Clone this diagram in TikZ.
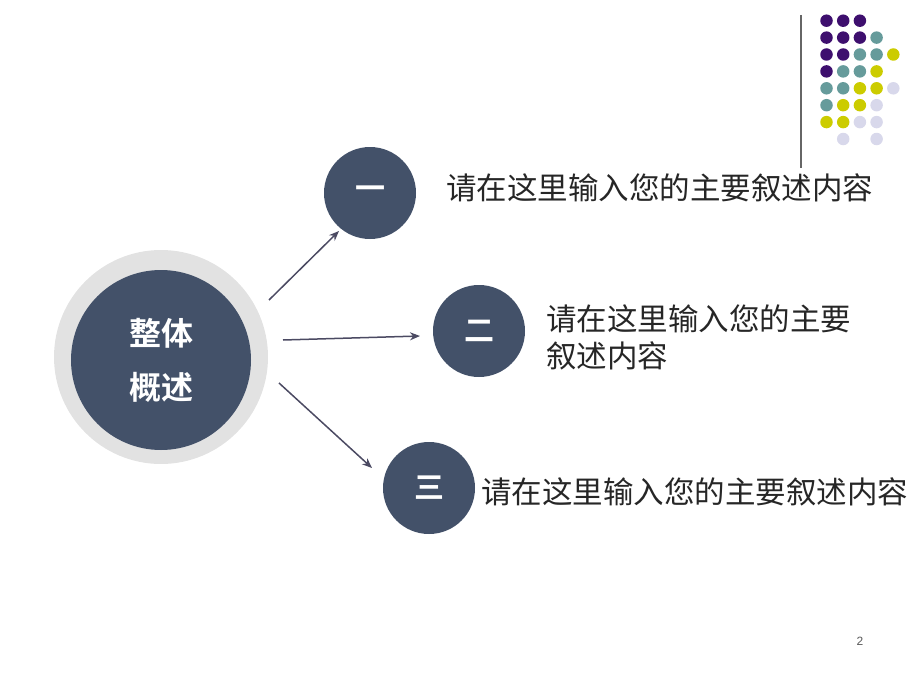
\documentclass[tikz,border=0pt]{standalone}
\usepackage{fontspec}
\newfontfamily\cjk{Noto Sans CJK SC}
\newfontfamily\cjkb{Noto Sans CJK SC Bold}
\newfontfamily\arialf{Liberation Sans}
\usetikzlibrary{arrows.meta}
\definecolor{navy}{HTML}{435169}
\definecolor{ring}{HTML}{E2E2E2}
\definecolor{arr}{HTML}{4B4A62}
\definecolor{dpurple}{HTML}{3E0F6E}
\definecolor{dteal}{HTML}{669B9B}
\definecolor{dyellow}{HTML}{CCCC00}
\definecolor{dlav}{HTML}{D8D8EB}
\definecolor{txt}{HTML}{262626}
\tikzset{
  x=1pt,y=-1pt,
  numc/.style={circle,fill=navy,minimum size=92pt,inner sep=0pt,text=white,font=\cjkb\fontsize{30}{30}\selectfont},
  body/.style={anchor=west,text=txt,font=\cjk\fontsize{30.5}{37}\selectfont,inner sep=0pt,align=left},
  conn/.style={draw=arr,line width=1.5pt,-{Stealth[length=10pt,width=8pt]}},
  dot/.style={circle,inner sep=0pt,minimum size=12.5pt},
}
\begin{document}
\begin{tikzpicture}
\useasboundingbox (0,0) rectangle (920,690);
% decoration top-right
\draw[gray!80!black,line width=1.2pt] (801,15) -- (801,168);
\foreach \c/\r/\col in {0/0/dpurple,1/0/dpurple,2/0/dpurple,
  0/1/dpurple,1/1/dpurple,2/1/dpurple,3/1/dteal,
  0/2/dpurple,1/2/dpurple,2/2/dteal,3/2/dteal,4/2/dyellow,
  0/3/dpurple,1/3/dteal,2/3/dteal,3/3/dyellow,
  0/4/dteal,1/4/dteal,2/4/dyellow,3/4/dyellow,4/4/dlav,
  0/5/dteal,1/5/dyellow,2/5/dyellow,3/5/dlav,
  0/6/dyellow,1/6/dyellow,2/6/dlav,3/6/dlav,
  1/7/dlav,3/7/dlav}
  \node[dot,fill=\col] (d\c\r) at ({826.5+16.7*\c},{20.7+16.9*\r}) {};
% central circle
\node[circle,fill=ring,minimum size=214pt,inner sep=0pt] (ringc) at (161,357) {};
\node[circle,fill=navy,minimum size=180pt,inner sep=0pt,text=white,align=center,
  font=\cjkb\fontsize{32}{54}\selectfont] (center) at (161,360) {整体\\概述};
% numbered circles
\node[numc] (one) at (370,193) {一};
\node[numc] (two) at (479,331) {二};
\node[numc] (three) at (429,488) {三};
% texts
\node[body] (t1) at (446,188) {请在这里输入您的主要叙述内容};
\node[body] (t2) at (546,337) {请在这里输入您的主要\\叙述内容};
\node[body] (t3) at (481,492) {请在这里输入您的主要叙述内容};
% connectors
\coordinate (s1) at (269,300);
\coordinate (s2) at (283,340);
\coordinate (s3) at (279,383);
\coordinate (e1) at (339,231);
\coordinate (e2) at (420,336);
\coordinate (e3) at (372,468);
\draw[conn] (s1) -- (e1);
\draw[conn] (s2) -- (e2);
\draw[conn] (s3) -- (e3);
% page number
\node[text=gray!70!black,font=\arialf\fontsize{12}{12}\selectfont] (pg) at (860,641) {2};
\end{tikzpicture}
\end{document}
